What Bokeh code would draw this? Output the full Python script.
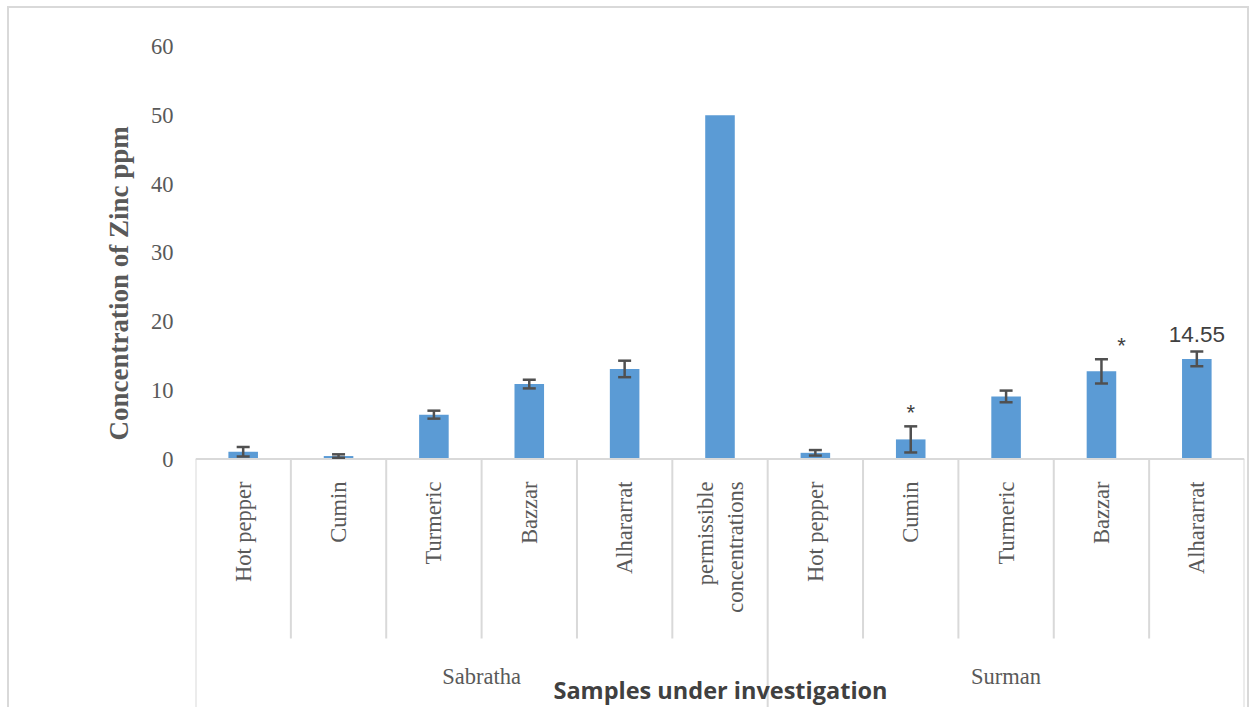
import numpy as np
from bokeh.plotting import figure
from bokeh.models import Range1d, FixedTicker, ColumnDataSource, Whisker, TeeHead, Label, Title
from bokeh.core.properties import value
from bokeh.embed import file_html
from bokeh.resources import INLINE

# ---- data -------------------------------------------------------------
regions = ["Sabratha", "Surman"]
sabratha_samples = ["Hot pepper", "Cumin", "Turmeric", "Bazzar", "Alhararrat",
                    "permissible\nconcentrations"]
surman_samples = ["Hot pepper", "Cumin", "Turmeric", "Bazzar", "Alhararrat"]

sabratha_zinc = [1.05, 0.43, 6.45, 10.9, 13.1, 50.0]
sabratha_err = [0.70, 0.25, 0.58, 0.63, 1.20, 0.0]
surman_zinc = [0.90, 2.85, 9.10, 12.75, 14.55]
surman_err = [0.40, 1.90, 0.85, 1.77, 1.07]
surman_sig = ["", "*", "", "*", ""]
labelled_value = 14.55

y_ticks = [0, 10, 20, 30, 40, 50, 60]

# ---- geometry ---------------------------------------------------------
W, H = 1250, 707
FRAME_LEFT, FRAME_RIGHT_PAD = 195, 6
ZERO_PX, TOP_PX = 458.5, 46.0                 # pixel rows of 0 and 60
k = (ZERO_PX - TOP_PX) / y_ticks[-1]           # pixels per ppm
y_top = ZERO_PX / k
y_bottom = -(H - ZERO_PX) / k


def py(row):
    """pixel row (from top) -> data y"""
    return (ZERO_PX - row) / k


labels = sabratha_samples + surman_samples
vals = sabratha_zinc + surman_zinc
errs = sabratha_err + surman_err
sig = [""] * len(sabratha_samples) + surman_sig
n = len(labels)
x = np.arange(n) + 0.5
cat_px = (W - FRAME_LEFT - FRAME_RIGHT_PAD) / n

BLUE = "#5B9BD5"
GRID = "#D9D9D9"
TXT = "#595959"
DARK = "#404040"

p = figure(width=W, height=H, x_range=Range1d(0, n), y_range=Range1d(y_bottom, y_top),
           output_backend="svg", toolbar_location=None, x_axis_location=None,
           min_border_left=FRAME_LEFT, min_border_right=FRAME_RIGHT_PAD,
           min_border_top=0, min_border_bottom=0)
p.grid.visible = False
p.outline_line_color = None
p.background_fill_color = None
p.border_fill_color = None

# chart-area border drawn behind the (transparent) canvas
line = f"linear-gradient({GRID},{GRID})"
p.styles = {
    "background": (f"{line} 7px 6px / {W - 9}px 2px no-repeat, "
                   f"{line} 7px 6px / 2px {H}px no-repeat, "
                   f"{line} {W - 3}px 6px / 2px {H}px no-repeat, white"),
}

ax = p.yaxis[0]
ax.ticker = FixedTicker(ticks=y_ticks)
ax.axis_line_color = None
ax.major_tick_line_color = None
ax.minor_tick_line_color = None
ax.major_tick_out = 0
ax.major_tick_in = 0
ax.major_label_standoff = 22
ax.major_label_text_font = "Liberation Serif"
ax.major_label_text_font_size = "22.5px"
ax.major_label_text_color = TXT

# y-axis title, starting a little above the bottom of the sample-name block
p.add_layout(Title(text="Concentration of Zinc ppm", align="left", offset=H - 440,
                   standoff=27, text_font="Liberation Serif", text_font_style="bold",
                   text_font_size="27px", text_color=TXT), "left")

# bars
p.vbar(x=x, top=vals, bottom=0, width=0.31, fill_color=BLUE, line_color=None)

# category axis line and separators
p.segment(x0=[0], y0=[0], x1=[n], y1=[0], line_color=GRID, line_width=2)
group_sizes = [len(sabratha_samples), len(surman_samples)]
group_edges = np.concatenate([[0], np.cumsum(group_sizes)])
inner = [b for b in range(1, n) if b not in group_edges]
p.segment(x0=inner, y0=[0] * len(inner), x1=inner, y1=[py(638)] * len(inner),
          line_color=GRID, line_width=2)
p.segment(x0=group_edges, y0=[0] * len(group_edges), x1=group_edges,
          y1=[y_bottom] * len(group_edges), line_color=GRID, line_width=2)

# error bars
m = [i for i in range(n) if errs[i] > 0]
err_src = ColumnDataSource(dict(
    x=x[m],
    upper=[vals[i] + errs[i] for i in m],
    lower=[vals[i] - errs[i] for i in m],
))
ERR = "#505050"
p.add_layout(Whisker(source=err_src, base="x", upper="upper", lower="lower",
                     level="annotation", line_color=ERR, line_width=2.5,
                     upper_head=TeeHead(size=13, line_color=ERR, line_width=2.5),
                     lower_head=TeeHead(size=13, line_color=ERR, line_width=2.5)))

# significance marks
star_dx = {"Bazzar": 20}
si = [i for i in range(n) if sig[i]]
p.text(x=[x[i] + star_dx.get(labels[i], 0) / cat_px for i in si],
       y=[vals[i] + errs[i] + 14 / k for i in si],
       text=[sig[i] for i in si], text_align="center", text_baseline="middle",
       text_font=value("Liberation Sans"), text_font_size="22px", text_color=DARK)

# value label
li = [i for i in range(n) if abs(vals[i] - labelled_value) < 1e-9]
p.text(x=[x[i] for i in li], y=[vals[i] + errs[i] + 17 / k for i in li],
       text=[f"{vals[i]:.2f}" for i in li], text_align="center",
       text_baseline="middle", text_font=value("Liberation Sans"),
       text_font_size="22.5px", text_color=DARK)

# sample names (rotated)
p.text(x=x, y=[py(481)] * n, text=labels, angle=np.pi / 2, text_align="right",
       text_baseline="middle", text_font=value("Liberation Serif"),
       text_font_size="22.5px", text_color=TXT, text_line_height=1.2)

# region names
centers = [(group_edges[j] + group_edges[j + 1]) / 2 for j in range(len(regions))]
p.text(x=centers, y=[py(676)] * len(regions), text=regions, text_align="center",
       text_baseline="middle", text_font=value("Liberation Serif"),
       text_font_size="22.5px", text_color=TXT)

# x-axis title
p.add_layout(Label(x=(720 - FRAME_LEFT) / cat_px, y=py(689),
                   text="Samples under investigation", text_align="center",
                   text_baseline="middle", text_font="Open Sans", text_font_style="bold",
                   text_font_size="23.5px", text_color=DARK))

open("out.html", "w").write(file_html(p, INLINE))
